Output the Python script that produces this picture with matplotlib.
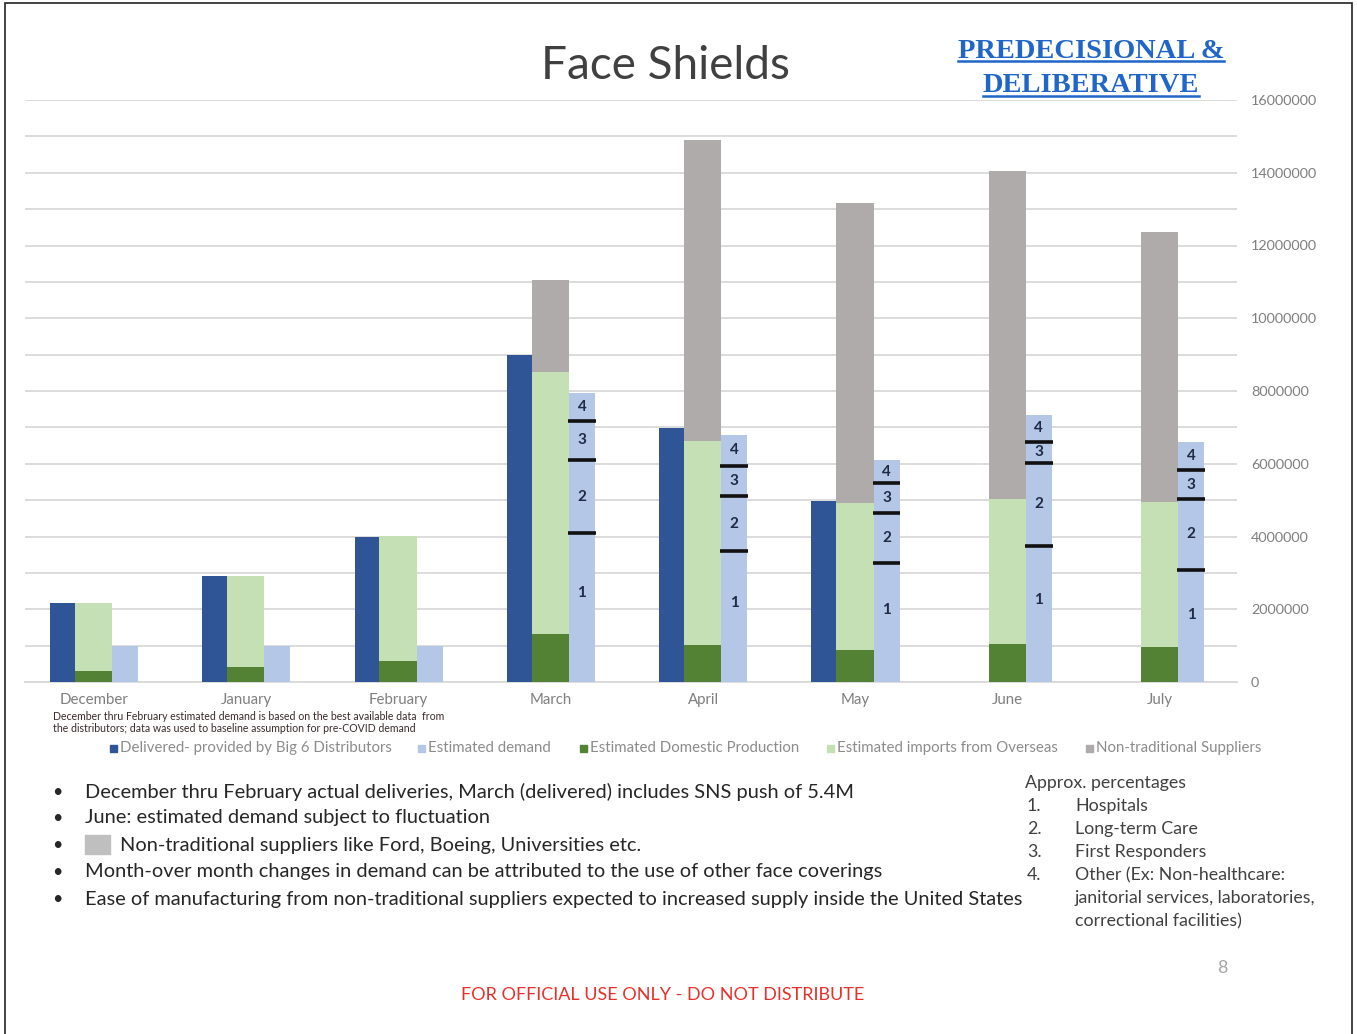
import matplotlib
matplotlib.use('Agg')
import matplotlib.pyplot as plt
from matplotlib.patches import Rectangle
from matplotlib.lines import Line2D
import numpy as np

# ---------------- data ----------------
months = ['December', 'January', 'February', 'March', 'April', 'May', 'June', 'July']
delivered = [2.17e6, 2.91e6, 3.99e6, 8.99e6, 6.98e6, 4.98e6, 0, 0]
domestic = [0.30e6, 0.41e6, 0.58e6, 1.32e6, 1.02e6, 0.88e6, 1.04e6, 0.96e6]
imports = [1.87e6, 2.50e6, 3.42e6, 7.20e6, 5.61e6, 4.04e6, 3.99e6, 3.99e6]
nontrad = [0, 0, 0, 2.53e6, 8.27e6, 8.25e6, 9.02e6, 7.42e6]
demand_total = [1.0e6, 1.0e6, 1.0e6, 7.95e6, 6.79e6, 6.10e6, 7.34e6, 6.61e6]
# demand split (approx. percentages): 1 hospitals, 2 long-term care, 3 first responders, 4 other
seg_hospitals = [0, 0, 0, 4.09e6, 3.60e6, 3.28e6, 3.75e6, 3.09e6]
seg_ltc = [0, 0, 0, 2.01e6, 1.51e6, 1.37e6, 2.28e6, 1.94e6]
seg_first = [0, 0, 0, 1.08e6, 0.83e6, 0.81e6, 0.58e6, 0.79e6]
seg_other = [0, 0, 0, 0.77e6, 0.85e6, 0.64e6, 0.73e6, 0.79e6]
yticks = [0, 2e6, 4e6, 6e6, 8e6, 10e6, 12e6, 14e6, 16e6]

series_names = ['Delivered- provided by Big 6 Distributors', 'Estimated demand',
                'Estimated Domestic Production', 'Estimated imports from Overseas',
                'Non-traditional Suppliers']
C_DELIV = '#2F5597'
C_DEMAND = '#B4C7E7'
C_DOM = '#548235'
C_IMP = '#C5E0B4'
C_NT = '#AFABAB'
series_colors = [C_DELIV, C_DEMAND, C_DOM, C_IMP, C_NT]

bullets = [
    'December thru February actual deliveries, March (delivered) includes SNS push of 5.4M',
    'June: estimated demand subject to fluctuation',
    'Non-traditional suppliers like Ford, Boeing, Universities etc.',
    'Month-over month changes in demand can be attributed to the use of other face coverings',
    'Ease of manufacturing from non-traditional suppliers expected to increased supply inside the United States',
]
pct_items = ['Hospitals', 'Long-term Care', 'First Responders', 'Other (Ex: Non-healthcare:',
             'janitorial services, laboratories,', 'correctional facilities)']

FONT = ['Lato', 'DejaVu Sans']
plt.rcParams['font.family'] = FONT

W, H = 1357, 1034
fig = plt.figure(figsize=(W / 100, H / 100), dpi=100)
fig.patch.set_facecolor('white')

def fx(px):
    return px / W

def fy(py):
    return 1 - py / H

ax = fig.add_axes([fx(25), fy(682), fx(1237) - fx(25), fy(100) - fy(682)])
x = np.arange(len(months))
dom = np.array(domestic)
imp = np.array(imports)
nt = np.array(nontrad)

w_del, w_mid, w_dem = 0.165, 0.245, 0.171
o_del, o_mid, o_dem = -0.207, -0.003, 0.204

ax.bar(x + o_del, delivered, w_del, color=C_DELIV, zorder=3)
ax.bar(x + o_mid, dom, w_mid, color=C_DOM, zorder=3)
ax.bar(x + o_mid, imp, w_mid, bottom=dom, color=C_IMP, zorder=3)
ax.bar(x + o_mid, nt, w_mid, bottom=dom + imp, color=C_NT, zorder=3)
ax.bar(x + o_dem, demand_total, w_dem, color=C_DEMAND, zorder=3)

segs = np.array([seg_hospitals, seg_ltc, seg_first, seg_other])
cum = np.cumsum(segs, axis=0)
for i in range(len(months)):
    if segs[:, i].sum() <= 0:
        continue
    xc = x[i] + o_dem
    for k in range(3):
        ax.hlines(cum[k, i], xc - w_dem / 2 - 0.005, xc + w_dem / 2 + 0.005,
                  color='#111111', lw=2.6, zorder=4)
    for k in range(4):
        lo = cum[k - 1, i] if k > 0 else 0
        mid = lo + segs[k, i] / 2
        if k == 0:
            mid = lo + segs[k, i] * 0.6
        ax.text(xc, mid, str(k + 1), ha='center', va='center', fontsize=11,
                fontweight='bold', color='#1F2A44', zorder=5)

ax.set_xlim(-0.453, 7.505)
ax.set_ylim(0, 16e6)
ax.set_yticks(yticks)
ax.set_yticks(np.arange(1e6, 16e6, 2e6), minor=True)
ax.yaxis.tick_right()
ax.set_yticklabels([f'{int(v)}' for v in yticks])
ax.tick_params(axis='y', which='both', length=0, pad=10, labelsize=10.4, labelcolor='#7F7F7F')
ax.grid(axis='y', which='both', color='#D9D9D9', lw=1.3, zorder=0)
ax.set_xticks(x)
ax.set_xticklabels(months)
ax.tick_params(axis='x', length=0, pad=8, labelsize=10.8, labelcolor='#7F7F7F')
for s in ['left', 'right', 'top']:
    ax.spines[s].set_visible(False)
ax.spines['bottom'].set_color('#D9D9D9')
ax.spines['bottom'].set_linewidth(1.3)

# note under the first months
fig.text(fx(53), fy(716), 'December thru February estimated demand is based on the best available data  from',
         fontsize=7.6, color='#3A2A2A', va='center', ha='left')
fig.text(fx(53), fy(729), 'the distributors; data was used to baseline assumption for pre-COVID demand',
         fontsize=7.6, color='#3A2A2A', va='center', ha='left')

# legend (manual row)
leg_x = [110, 418, 580, 827, 1086]
for lx, name, col in zip(leg_x, series_names, series_colors):
    fig.add_artist(Rectangle((fx(lx), fy(752)), fx(7), 7 / H, color=col, transform=fig.transFigure))
    fig.text(fx(lx + 10), fy(748), name, fontsize=10.8, color='#8C8C8C', va='center', ha='left')

# title
fig.text(fx(665), fy(66), 'Face Shields', fontsize=33, color='#404040', ha='center', va='center')

# predecisional stamp
stamp = []
for txt, yy in [('PREDECISIONAL &', 51), ('DELIBERATIVE', 86)]:
    t = fig.text(fx(1091), fy(yy), txt, fontsize=20.5, fontweight='bold', color='#1F66C8',
                 family=['Liberation Serif', 'DejaVu Serif'], ha='center', va='center')
    stamp.append(t)
fig.canvas.draw()
r = fig.canvas.get_renderer()
for t in stamp:
    bb = t.get_window_extent(renderer=r)
    yl = bb.y0 + 3
    fig.add_artist(Line2D([bb.x0 / W, bb.x1 / W], [yl / H, yl / H], color='#1F66C8',
                          lw=1.8, transform=fig.transFigure))

# bullets
by = [792, 818, 845, 872, 899]
for i, (b, yy) in enumerate(zip(bullets, by)):
    fig.text(fx(57), fy(yy), '\u2022', fontsize=13, color='#262626', ha='center', va='center')
    tx = 85
    if i == 2:
        fig.add_artist(Rectangle((fx(85), fy(854)), fx(25), 19 / H, color='#BFBFBF',
                                 transform=fig.transFigure))
        tx = 120
    fig.text(fx(tx), fy(yy), b, fontsize=14.4, color='#262626', ha='left', va='center')

# approx percentages list
fig.text(fx(1025), fy(783), 'Approx. percentages', fontsize=12.8, color='#404040', ha='left', va='center')
py = [806, 829, 852, 875, 898, 921]
nums = ['1.', '2.', '3.', '4.', '', '']
for n, item, yy in zip(nums, pct_items, py):
    if n:
        fig.text(fx(1027), fy(yy), n, fontsize=12.8, color='#404040', ha='left', va='center')
    fig.text(fx(1075), fy(yy), item, fontsize=12.8, color='#404040', ha='left', va='center')

fig.text(fx(1222), fy(968), '8', fontsize=13, color='#A6A6A6', ha='center', va='center')
fig.text(fx(663), fy(995), 'FOR OFFICIAL USE ONLY - DO NOT DISTRIBUTE', fontsize=13,
         color='#E8302A', ha='center', va='center')

# slide border
fig.add_artist(Rectangle((fx(5), fy(1040)), fx(1352) - fx(5), (1040 - 3) / H, fill=False,
                         edgecolor='#222222', lw=1.2, transform=fig.transFigure))

fig.savefig('out.png', dpi=100, facecolor='white')
